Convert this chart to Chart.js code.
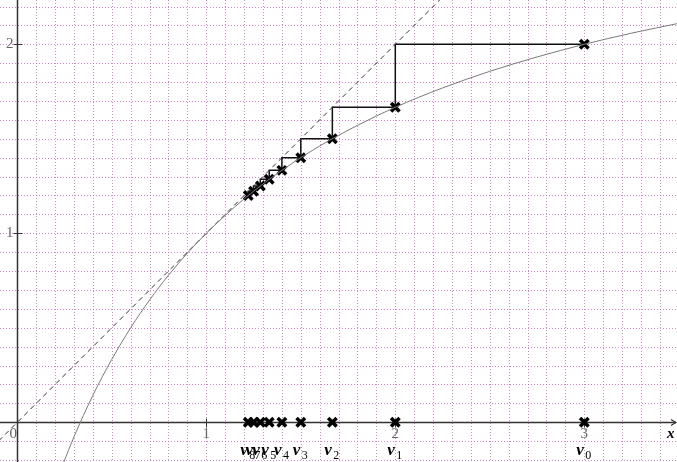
<!DOCTYPE html>
<html>
<head>
<meta charset="utf-8">
<script src="https://cdn.jsdelivr.net/npm/chart.js@4/dist/chart.umd.min.js"></script>
<style>
    body { margin: 0; background: #fff; }
    #wrap { width: 677px; height: 462px; }
</style>
</head>
<body>
<div id="wrap"><canvas id="chart" width="677" height="462"></canvas></div>
<script>
// values
const vValues = [3, 2, 1.667, 1.5, 1.4, 1.333, 1.286, 1.25, 1.222];
const curveHits = [2, 1.667, 1.5, 1.4, 1.333, 1.286, 1.25, 1.222, 1.2];
const curveX = [0.24, 0.3, 0.4, 0.5, 0.6, 0.7, 0.8, 0.9, 1.0, 1.2, 1.4, 1.6, 1.8, 2.0, 2.25, 2.5, 2.75, 3.0, 3.25, 3.5];
const curveY = [-0.226, -0.077, 0.143, 0.333, 0.5, 0.647, 0.778, 0.895, 1.0, 1.182, 1.333, 1.462, 1.571, 1.667, 1.769, 1.857, 1.933, 2.0, 2.059, 2.111];
const diagX = [-0.3, 2.5];
const diagY = [-0.3, 2.5];
const xTickLabels = ["0", "1", "2", "3"];
const yTickLabels = ["1", "2"];

const xMin = -0.0915, xMax = 3.4905;
const yMin = -0.2101, yMax = 2.2344;
const gridStep = 0.1;

// staircase: (v_n, f(v_n)) -> (f(v_n), f(v_n)) -> (v_n+1, f(v_n+1)) ...
const stairs = [];
vValues.forEach((v, i) => {
    stairs.push({x: v, y: curveHits[i]});
    if (i < vValues.length - 1) stairs.push({x: curveHits[i], y: curveHits[i]});
});

const backgroundPlugin = {
    id: "background",
    beforeDatasetsDraw(chart) {
        const ctx = chart.ctx;
        const xs = chart.scales.x, ys = chart.scales.y;
        const area = chart.chartArea;
        const px = v => xs.getPixelForValue(v);
        const py = v => ys.getPixelForValue(v);

        // dotted grid
        ctx.save();
        ctx.strokeStyle = "rgba(180, 70, 180, 0.65)";
        ctx.lineWidth = 1;
        ctx.setLineDash([1, 2]);
        for (let k = Math.ceil(xMin / gridStep); k * gridStep <= xMax; k++) {
            const x = Math.round(px(k * gridStep)) + 0.5;
            ctx.beginPath();
            ctx.moveTo(x, area.top);
            ctx.lineTo(x, area.bottom);
            ctx.stroke();
        }
        for (let k = Math.ceil(yMin / gridStep); k * gridStep <= yMax; k++) {
            const y = Math.round(py(k * gridStep)) + 0.5;
            ctx.beginPath();
            ctx.moveTo(area.left, y);
            ctx.lineTo(area.right, y);
            ctx.stroke();
        }
        ctx.restore();

        // axes
        const x0 = Math.round(px(0)) + 0.5;
        const y0 = Math.round(py(0)) + 0.5;
        ctx.save();
        ctx.strokeStyle = "#333";
        ctx.lineWidth = 1.5;
        ctx.beginPath();
        ctx.moveTo(area.left, y0);
        ctx.lineTo(area.right - 1, y0);
        ctx.moveTo(x0, area.top);
        ctx.lineTo(x0, area.bottom);
        ctx.stroke();
        // arrow on x axis
        ctx.lineWidth = 1.2;
        ctx.beginPath();
        ctx.moveTo(area.right - 6, y0 - 3);
        ctx.lineTo(area.right - 1, y0);
        ctx.lineTo(area.right - 6, y0 + 3);
        ctx.stroke();

        // integer ticks
        ctx.lineWidth = 1;
        ctx.beginPath();
        xTickLabels.forEach(t => {
            const v = Number(t);
            if (v === 0) return;
            const x = Math.round(px(v)) + 0.5;
            ctx.moveTo(x, y0 - 4);
            ctx.lineTo(x, y0 + 5);
        });
        yTickLabels.forEach(t => {
            const y = Math.round(py(Number(t))) + 0.5;
            ctx.moveTo(x0 - 4, y);
            ctx.lineTo(x0 + 5, y);
        });
        ctx.stroke();

        ctx.fillStyle = "#666";
        ctx.font = '15px "Liberation Serif"';
        ctx.textBaseline = "top";
        ctx.textAlign = "center";
        xTickLabels.forEach(t => {
            const v = Number(t);
            const x = v === 0 ? px(0) - 4 : px(v);
            ctx.fillText(t, x, y0 + 4);
        });
        ctx.textAlign = "right";
        ctx.textBaseline = "middle";
        yTickLabels.forEach(t => {
            ctx.fillText(t, x0 - 4, py(Number(t)));
        });
        ctx.restore();
    },
    afterDatasetsDraw(chart) {
        const ctx = chart.ctx;
        const xs = chart.scales.x, ys = chart.scales.y;
        const y0 = ys.getPixelForValue(0);
        ctx.save();
        ctx.fillStyle = "#000";
        ctx.textBaseline = "alphabetic";
        ctx.textAlign = "left";
        ctx.font = 'bold italic 15px "Liberation Serif"';
        ctx.fillText("x", 667, 438);
        vValues.forEach((v, i) => {
            const x = xs.getPixelForValue(v);
            ctx.font = 'bold italic 17px "Liberation Serif"';
            ctx.fillText("v", x - 8, y0 + 33);
            ctx.font = '12px "Liberation Serif"';
            ctx.fillText(String(i), x + 1, y0 + 37);
        });
        ctx.restore();
    }
};

new Chart(document.getElementById("chart"), {
    type: "scatter",
    data: {
        datasets: [
            {
                data: curveX.map((x, i) => ({x: x, y: curveY[i]})),
                showLine: true,
                borderColor: "#7a7a7a",
                borderWidth: 1,
                pointRadius: 0,
                cubicInterpolationMode: "monotone"
            },
            {
                data: diagX.map((x, i) => ({x: x, y: diagY[i]})),
                showLine: true,
                borderColor: "#333",
                borderWidth: 1,
                borderDash: [5, 4],
                pointRadius: 0
            },
            {
                data: stairs,
                showLine: true,
                borderColor: "#111",
                borderWidth: 1.5,
                pointRadius: 0,
                tension: 0
            },
            {
                data: vValues.map((v, i) => ({x: v, y: curveHits[i]})),
                pointStyle: "crossRot",
                pointRadius: 6,
                pointBorderWidth: 3.5,
                borderColor: "#000"
            },
            {
                data: vValues.map(v => ({x: v, y: 0})),
                pointStyle: "crossRot",
                pointRadius: 6,
                pointBorderWidth: 3.5,
                borderColor: "#000"
            }
        ]
    },
    options: {
        responsive: false,
        animation: false,
        devicePixelRatio: 1,
        layout: {padding: 0, autoPadding: false},
        plugins: {
            legend: {display: false},
            tooltip: {enabled: false}
        },
        scales: {
            x: {type: "linear", display: false, min: xMin, max: xMax},
            y: {type: "linear", display: false, min: yMin, max: yMax}
        }
    },
    plugins: [backgroundPlugin]
});
</script>
</body>
</html>
